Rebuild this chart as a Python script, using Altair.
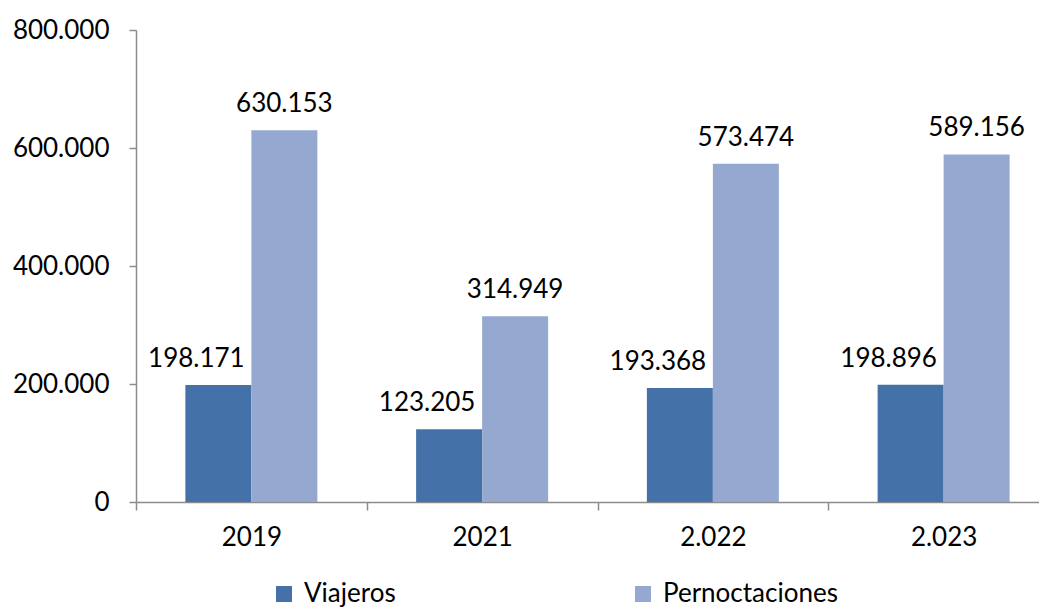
import altair as alt
import pandas as pd

years = ["2019", "2021", "2.022", "2.023"]
viajeros = [198171, 123205, 193368, 198896]
pernoctaciones = [630153, 314949, 573474, 589156]
series = ["Viajeros", "Pernoctaciones"]
colors = ["#4472A8", "#95A9D0"]
y_ticks = [0, 200000, 400000, 600000, 800000]

rows = []
for i, yr in enumerate(years):
    rows.append({"year": yr, "serie": series[0], "value": viajeros[i]})
    rows.append({"year": yr, "serie": series[1], "value": pernoctaciones[i]})
df = pd.DataFrame(rows)
df["label"] = df["value"].map(lambda v: f"{v:,}".replace(",", "."))

FONT = "Lato"
GRAY = "#8C8C8C"
FS = 26

x = alt.X(
    "year:N", sort=years,
    scale=alt.Scale(range=[0, 923], paddingInner=0, paddingOuter=0),
    axis=alt.Axis(title=None, labelAngle=0, tickBand="extent", domainColor=GRAY,
                  tickColor=GRAY, tickSize=8, labelPadding=14, labelFontSize=FS,
                  labelFont=FONT, labelColor="#000000", domainWidth=1.5, tickWidth=1.5),
)
y = alt.Y(
    "value:Q",
    scale=alt.Scale(domain=[0, 800000], nice=False),
    axis=alt.Axis(title=None, values=y_ticks, format=",.0f", grid=False,
                  domainColor=GRAY, tickColor=GRAY, tickSize=7, labelPadding=20,
                  labelFontSize=FS, labelFont=FONT, labelColor="#000000",
                  domainWidth=1.5, tickWidth=1.5),
)
xoff = alt.XOffset("serie:N", sort=series,
                   scale=alt.Scale(paddingInner=0, paddingOuter=0.748))
color = alt.Color(
    "serie:N", sort=series,
    scale=alt.Scale(domain=series, range=colors),
    legend=alt.Legend(title=None, orient="none", legendX=135, legendY=551,
                      direction="horizontal", symbolType="square", symbolSize=256,
                      symbolStrokeWidth=0, labelFontSize=FS, labelFont=FONT,
                      labelColor="#000000", columnPadding=234, padding=0,
                      labelOffset=7, labelLimit=400),
)

base = alt.Chart(df)
bars = base.mark_bar().encode(x=x, y=y, xOffset=xoff, color=color)
text_v = base.transform_filter(alt.datum.serie == "Viajeros").mark_text(
    baseline="alphabetic", dy=-18, dx=-22, fontSize=FS, font=FONT, color="#000000"
).encode(x=x, y=y, xOffset=xoff, text="label:N")
text_p = base.transform_filter(alt.datum.serie == "Pernoctaciones").mark_text(
    baseline="alphabetic", dy=-18, fontSize=FS, font=FONT, color="#000000"
).encode(x=x, y=y, xOffset=xoff, text="label:N")

chart = (
    alt.layer(bars, text_v, text_p)
    .properties(width=903, height=472, autosize=alt.AutoSizeParams(type="none"),
                padding={"left": 128, "top": 22, "right": 0, "bottom": 105})
    .configure_view(stroke=None)
)

chart.save("out.html", embed_options={"renderer": "svg", "actions": False,
                                      "formatLocale": {"decimal": ",", "thousands": ".",
                                                       "grouping": [3], "currency": ["", "€"]}})
